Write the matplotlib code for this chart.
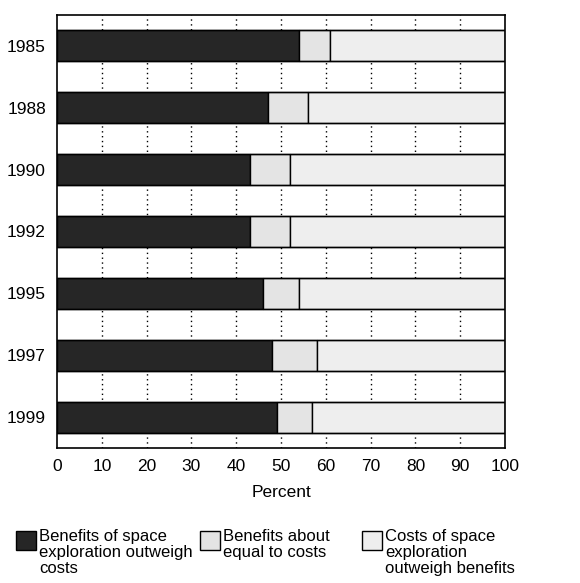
import matplotlib
matplotlib.use("Agg")
import matplotlib.pyplot as plt
from matplotlib.patches import Rectangle
import numpy as np

plt.rcParams['font.family'] = ['Liberation Sans', 'DejaVu Sans']

# survey years and percent shares per answer
years = ["1985", "1988", "1990", "1992", "1995", "1997", "1999"]
benefits_outweigh = [54, 47, 43, 43, 46, 48, 49]
about_equal = [7, 9, 9, 9, 8, 10, 8]
costs_outweigh = [39, 44, 48, 48, 46, 42, 43]

series_labels = ["Benefits of space\nexploration outweigh\ncosts",
                 "Benefits about\nequal to costs",
                 "Costs of space\nexploration\noutweigh benefits"]
series_colors = ["#262626", "#e4e4e4", "#eeeeee"]

fig = plt.figure(figsize=(5.8, 5.83), dpi=100)
ax = fig.add_axes([0.0983, 0.2316, 0.7724, 0.7427])

y = np.arange(len(years))
bar_h = 0.5

# dotted grid, shows only in the gaps between bars
for xv in range(10, 100, 10):
    ax.axvline(xv, color="black", linestyle=(0, (1, 2.5)), linewidth=1.0, zorder=0)

left = np.zeros(len(years))
for vals, col in zip([benefits_outweigh, about_equal, costs_outweigh], series_colors):
    ax.barh(y, vals, left=left, height=bar_h, color=col, edgecolor="black",
            linewidth=1.0, zorder=2)
    left += np.array(vals)

# horizontal rules at the edges of each row
for yi in y:
    ax.axhline(yi - bar_h / 2, color="black", linewidth=1.0, zorder=3)
    ax.axhline(yi + bar_h / 2, color="black", linewidth=1.0, zorder=3)

ax.set_xlim(0, 100)
ax.set_ylim(len(years) - 0.5, -0.5)
ax.set_yticks(y)
ax.set_yticklabels(years)
ax.set_xticks(range(0, 101, 10))
ax.tick_params(axis="both", length=0, labelsize=12.5)
ax.tick_params(axis="x", pad=8)
ax.tick_params(axis="y", pad=8)
for s in ax.spines.values():
    s.set_linewidth(1.2)
ax.set_xlabel("Percent", fontsize=12.5, labelpad=8)

# legend built by hand below the chart
W, H = 580.0, 583.0
legend_x = [16, 200, 362]
for lx, lab, col in zip(legend_x, series_labels, series_colors):
    fig.add_artist(Rectangle((lx / W, 1 - 550 / H), 20 / W, 19 / H,
                             transform=fig.transFigure, facecolor=col,
                             edgecolor="black", linewidth=1.0))
    fig.text((lx + 23) / W, 1 - 529 / H, lab, fontsize=12, va="top", ha="left",
             linespacing=1.1)

fig.savefig("out.png", dpi=100)
